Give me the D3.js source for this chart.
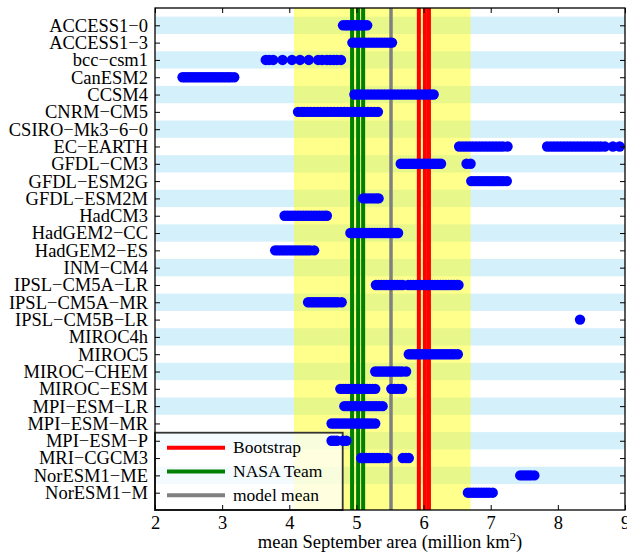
<!DOCTYPE html>
<html>
<head>
<meta charset="utf-8">
<script src="https://cdn.jsdelivr.net/npm/d3@7"></script>
<style>
  body { margin: 0; background: #fff; }
  text { font-family: "Liberation Serif", "Times New Roman", serif; }
</style>
</head>
<body>
<div class="chart"></div>
<script>
const models = ["ACCESS1-0", "ACCESS1-3", "bcc-csm1", "CanESM2", "CCSM4", "CNRM-CM5", "CSIRO-Mk3-6-0",
  "EC-EARTH", "GFDL-CM3", "GFDL-ESM2G", "GFDL-ESM2M", "HadCM3", "HadGEM2-CC", "HadGEM2-ES", "INM-CM4",
  "IPSL-CM5A-LR", "IPSL-CM5A-MR", "IPSL-CM5B-LR", "MIROC4h", "MIROC5", "MIROC-CHEM", "MIROC-ESM",
  "MPI-ESM-LR", "MPI-ESM-MR", "MPI-ESM-P", "MRI-CGCM3", "NorESM1-ME", "NorESM1-M"];

// mean September area of each ensemble member (million km2), one list per model
const areas = [
  [4.80, 4.84, 4.87, 4.91, 4.94, 4.97, 5.00, 5.03, 5.06, 5.09, 5.12, 5.16],
  [4.94, 4.98, 5.02, 5.06, 5.10, 5.14, 5.18, 5.22, 5.26, 5.30, 5.34, 5.38, 5.42, 5.46, 5.50, 5.53],
  [3.65, 3.70, 3.76, 3.90, 4.04, 4.16, 4.29, 4.43, 4.49, 4.56, 4.61, 4.66, 4.71, 4.77],
  [2.41, 2.45, 2.49, 2.53, 2.57, 2.61, 2.65, 2.69, 2.73, 2.77, 2.81, 2.85, 2.89, 2.93, 2.97, 3.01, 3.05, 3.09, 3.13, 3.18],
  [4.97, 5.02, 5.07, 5.12, 5.17, 5.22, 5.27, 5.32, 5.37, 5.42, 5.47, 5.52, 5.57, 5.62, 5.67, 5.72, 5.77, 5.82, 5.87,
   5.92, 5.97, 6.02, 6.07, 6.11, 6.15],
  [4.13, 4.18, 4.22, 4.27, 4.32, 4.37, 4.42, 4.47, 4.52, 4.57, 4.62, 4.67, 4.72, 4.77, 4.82, 4.87, 4.92, 4.97, 5.02,
   5.07, 5.12, 5.17, 5.22, 5.27, 5.32],
  [],
  [6.53, 6.58, 6.63, 6.68, 6.73, 6.78, 6.83, 6.88, 6.93, 6.98, 7.03, 7.08, 7.13, 7.18, 7.25,
   7.84, 7.89, 7.94, 7.99, 8.04, 8.09, 8.14, 8.19, 8.24, 8.29, 8.34, 8.39, 8.44, 8.49, 8.54, 8.59, 8.64, 8.70, 8.82, 8.92],
  [5.66, 5.70, 5.74, 5.78, 5.82, 5.86, 5.90, 5.94, 5.98, 6.02, 6.06, 6.10, 6.14, 6.18, 6.22, 6.26, 6.64, 6.70],
  [6.71, 6.75, 6.79, 6.83, 6.87, 6.91, 6.95, 6.99, 7.03, 7.07, 7.11, 7.15, 7.19, 7.24],
  [5.10, 5.14, 5.18, 5.22, 5.26, 5.30, 5.33],
  [3.93, 3.97, 4.01, 4.05, 4.09, 4.13, 4.17, 4.21, 4.25, 4.29, 4.33, 4.37, 4.41, 4.45, 4.49, 4.53, 4.56],
  [4.91, 4.95, 4.99, 5.03, 5.07, 5.11, 5.15, 5.19, 5.23, 5.27, 5.31, 5.35, 5.39, 5.43, 5.47, 5.51, 5.55, 5.59, 5.62],
  [3.79, 3.83, 3.87, 3.91, 3.95, 3.99, 4.03, 4.07, 4.11, 4.15, 4.19, 4.23, 4.27, 4.31, 4.37],
  [],
  [5.29, 5.33, 5.37, 5.41, 5.45, 5.49, 5.53, 5.57, 5.61, 5.65, 5.69,
   5.77, 5.81, 5.85, 5.89, 5.93, 5.97, 6.01, 6.05, 6.09, 6.13, 6.17, 6.21, 6.25, 6.29, 6.33, 6.37, 6.41, 6.45, 6.49, 6.52],
  [4.28, 4.32, 4.36, 4.40, 4.44, 4.48, 4.52, 4.56, 4.60, 4.64, 4.68, 4.72, 4.78],
  [8.33],
  [],
  [5.78, 5.82, 5.86, 5.90, 5.94, 5.98, 6.02, 6.06, 6.10, 6.14, 6.18, 6.22, 6.26, 6.30, 6.34, 6.38, 6.42, 6.46, 6.51],
  [5.28, 5.32, 5.36, 5.40, 5.44, 5.48, 5.52, 5.56, 5.60, 5.64, 5.68, 5.74],
  [4.76, 4.80, 4.84, 4.88, 4.92, 4.96, 5.00, 5.04, 5.08, 5.12, 5.16, 5.20, 5.24, 5.28, 5.52, 5.57, 5.62, 5.68],
  [4.82, 4.86, 4.90, 4.94, 4.98, 5.02, 5.06, 5.10, 5.14, 5.18, 5.22, 5.26, 5.30, 5.34, 5.39],
  [4.63, 4.67, 4.71, 4.75, 4.79, 4.83, 4.87, 4.91, 4.95, 4.99, 5.03, 5.07, 5.11, 5.15, 5.19, 5.23, 5.28],
  [4.63, 4.67, 4.71, 4.80, 4.85],
  [5.07, 5.11, 5.15, 5.19, 5.23, 5.27, 5.31, 5.35, 5.40, 5.46, 5.69, 5.74, 5.78],
  [7.44, 7.48, 7.52, 7.56, 7.60, 7.65],
  [6.66, 6.70, 6.74, 6.78, 6.82, 6.86, 6.90, 6.94, 6.98, 7.03]
];

const bootstrap = [5.93, 6.02, 6.08];
const nasaTeam = [4.935, 5.025, 5.10];
const modelMean = [5.515];
const spread = [4.07, 6.70];
const xTicks = [2, 3, 4, 5, 6, 7, 8, 9];
const legendItems = [
  { label: "Bootstrap", color: "#ff0000" },
  { label: "NASA Team", color: "#008000" },
  { label: "model mean", color: "#808080" }
];

const width = 627;
const height = 555;
const marginTop = 8;
const marginRight = 2;
const marginBottom = 45;
const marginLeft = 155;

const x = d3.scaleLinear()
  .domain([2, 9])
  .range([marginLeft, width - marginRight]);

const y = d3.scaleLinear()
  .domain([0, models.length + 1])
  .range([marginTop, height - marginBottom]);

const svg = d3.select(".chart").append("svg")
  .attr("width", width)
  .attr("height", height);

svg.append("clipPath").attr("id", "plot")
  .append("rect")
  .attr("x", x(2)).attr("y", y(0))
  .attr("width", x(9) - x(2)).attr("height", y(29) - y(0));

const plot = svg.append("g").attr("clip-path", "url(#plot)");

// light blue bands on every other row
plot.selectAll("rect.band")
  .data(models.filter((d, i) => i % 2 === 0))
  .join("rect")
  .attr("class", "band")
  .attr("x", x(2))
  .attr("width", x(9) - x(2))
  .attr("y", d => y(models.indexOf(d) + 0.5))
  .attr("height", y(1) - y(0))
  .attr("fill", "#d4f0fb");

plot.append("rect")
  .attr("x", x(spread[0]))
  .attr("width", x(spread[1]) - x(spread[0]))
  .attr("y", y(0))
  .attr("height", y(29) - y(0))
  .attr("fill", "#ffff00")
  .attr("opacity", 0.45);

const vlines = [
  ...nasaTeam.map(v => ({ v, c: "#008000", w: 4 })),
  ...modelMean.map(v => ({ v, c: "#808080", w: 3.5 })),
  ...bootstrap.map(v => ({ v, c: "#ff0000", w: 4 }))
];
plot.selectAll("line.ref")
  .data(vlines)
  .join("line")
  .attr("class", "ref")
  .attr("x1", d => x(d.v)).attr("x2", d => x(d.v))
  .attr("y1", y(0)).attr("y2", y(29))
  .attr("stroke", d => d.c)
  .attr("stroke-width", d => d.w);

// legend box
const lg = svg.append("g");
lg.append("rect")
  .attr("x", 155).attr("y", 432.7)
  .attr("width", 187.7).attr("height", 77.3)
  .attr("fill", "#ffffff")
  .attr("fill-opacity", 0.72)
  .attr("stroke", "#333")
  .attr("stroke-width", 1.8);
lg.selectAll("line")
  .data(legendItems)
  .join("line")
  .attr("x1", 167).attr("x2", 225)
  .attr("y1", (d, i) => 447.7 + i * 23.8)
  .attr("y2", (d, i) => 447.7 + i * 23.8)
  .attr("stroke", d => d.color)
  .attr("stroke-width", 4);
lg.selectAll("text")
  .data(legendItems)
  .join("text")
  .attr("x", 233)
  .attr("y", (d, i) => 447.7 + i * 23.8)
  .attr("dy", "0.32em")
  .attr("font-size", 17.5)
  .text(d => d.label);

// ensemble members, drawn above the legend
const pts = [];
areas.forEach((row, i) => row.forEach(v => pts.push({ i, v })));
svg.append("g").attr("clip-path", "url(#plot)")
  .selectAll("circle")
  .data(pts)
  .join("circle")
  .attr("cx", d => x(d.v))
  .attr("cy", d => y(d.i + 1))
  .attr("r", 5.2)
  .attr("fill", "#0000ff");

// axes (ticks point inward)
const rows = d3.range(1, models.length + 1);

svg.append("g")
  .attr("transform", `translate(0,${y(29)})`)
  .call(d3.axisBottom(x).tickValues(xTicks).tickFormat(d3.format("d")).tickSizeInner(-5).tickSizeOuter(0).tickPadding(6))
  .call(g => g.select(".domain").remove())
  .call(g => g.selectAll("text").attr("font-size", 18.5).attr("font-family", "Liberation Serif").attr("fill", "#000"));

svg.append("g")
  .attr("transform", `translate(0,${y(0)})`)
  .call(d3.axisTop(x).tickValues(xTicks).tickFormat("").tickSizeInner(-5).tickSizeOuter(0))
  .call(g => g.select(".domain").remove());

svg.append("g")
  .attr("transform", `translate(${x(2)},0)`)
  .call(d3.axisLeft(y).tickValues(rows).tickFormat(d => models[d - 1].replace(/-/g, "\u2212"))
    .tickSizeInner(-5).tickSizeOuter(0).tickPadding(7))
  .call(g => g.select(".domain").remove())
  .call(g => g.selectAll("text").attr("font-size", 18.5).attr("font-family", "Liberation Serif").attr("fill", "#000"));

svg.append("g")
  .attr("transform", `translate(${x(9)},0)`)
  .call(d3.axisRight(y).tickValues(rows).tickFormat("").tickSizeInner(-5).tickSizeOuter(0))
  .call(g => g.select(".domain").remove());

svg.append("rect")
  .attr("x", x(2)).attr("y", y(0))
  .attr("width", x(9) - x(2)).attr("height", y(29) - y(0))
  .attr("fill", "none")
  .attr("stroke", "#000")
  .attr("stroke-width", 1.3);

const title = svg.append("text")
  .attr("x", (x(2) + x(9)) / 2)
  .attr("y", 548.3)
  .attr("text-anchor", "middle")
  .attr("font-size", 18.5);
title.append("tspan").text("mean September area (million km");
title.append("tspan").attr("dy", -7).attr("font-size", 13).text("2");
title.append("tspan").attr("dy", 7).text(")");
</script>
</body>
</html>
